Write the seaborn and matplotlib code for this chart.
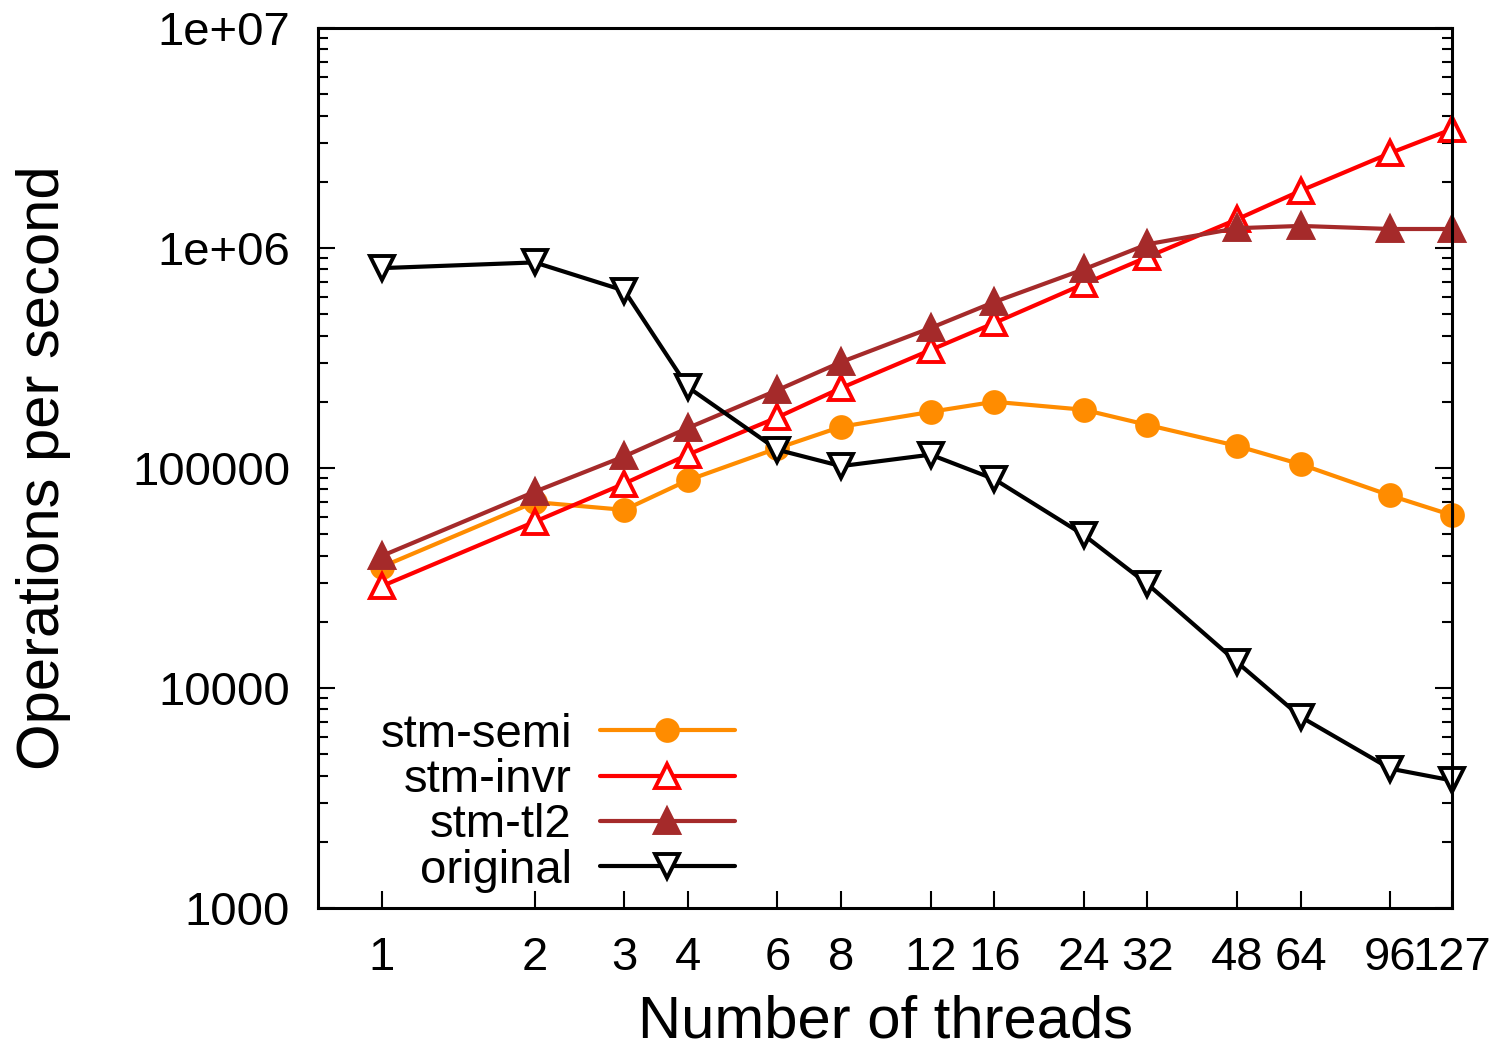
import pandas as pd
import seaborn as sns
import matplotlib.pyplot as plt
from matplotlib.ticker import FixedLocator, FixedFormatter, LogLocator, NullFormatter

threads = [1, 2, 3, 4, 6, 8, 12, 16, 24, 32, 48, 64, 96, 127]
stm_semi = [3.55e4, 7.0e4, 6.45e4, 8.8e4, 1.23e5, 1.54e5, 1.8e5, 2.0e5, 1.84e5, 1.57e5, 1.26e5, 1.04e5, 7.5e4, 6.1e4]
stm_invr = [2.9e4, 5.7e4, 8.5e4, 1.15e5, 1.7e5, 2.31e5, 3.44e5, 4.56e5, 6.86e5, 9.1e5, 1.35e6, 1.82e6, 2.7e6, 3.47e6]
stm_tl2 = [3.98e4, 7.8e4, 1.13e5, 1.52e5, 2.26e5, 3.03e5, 4.33e5, 5.68e5, 8.0e5, 1.04e6, 1.23e6, 1.26e6, 1.22e6, 1.22e6]
original = [8.1e5, 8.6e5, 6.4e5, 2.33e5, 1.21e5, 1.02e5, 1.15e5, 8.9e4, 4.96e4, 2.97e4, 1.31e4, 7.4e3, 4.3e3, 3.8e3]

sns.set_style('ticks')
plt.rcParams['font.family'] = ['Liberation Sans', 'DejaVu Sans']
plt.rcParams['text.color'] = 'black'
plt.rcParams['axes.labelcolor'] = 'black'
plt.rcParams['xtick.color'] = 'black'
plt.rcParams['ytick.color'] = 'black'

fig = plt.figure(figsize=(15.03, 10.5), dpi=100)
ax = fig.add_axes([318 / 1503, 1 - 908 / 1050, (1452 - 318) / 1503, (908 - 28) / 1050])

series = [
    ('stm-semi', stm_semi, '#ff8c00', 'o', '#ff8c00'),
    ('stm-invr', stm_invr, '#ff0000', '^', 'white'),
    ('stm-tl2', stm_tl2, '#a52a2a', '^', '#a52a2a'),
    ('original', original, '#000000', 'v', 'white'),
]

for name, vals, col, mk, fc in series:
    df = pd.DataFrame({'threads': threads, 'ops': vals})
    sns.lineplot(data=df, x='threads', y='ops', ax=ax, color=col, linewidth=3,
                 marker=mk, markersize=15 if mk == 'o' else 17, markerfacecolor=fc,
                 markeredgecolor=col, markeredgewidth=2.8, label=name, clip_on=False)

ax.set_xscale('log')
ax.set_yscale('log')
ax.set_xlim(0.75, 127)
ax.set_ylim(1000, 1e7)

ax.xaxis.set_major_locator(FixedLocator(threads))
ax.xaxis.set_major_formatter(FixedFormatter([str(t) for t in threads]))
ax.xaxis.set_minor_locator(FixedLocator([]))
ax.yaxis.set_major_locator(FixedLocator([1e3, 1e4, 1e5, 1e6, 1e7]))
ax.yaxis.set_major_formatter(FixedFormatter(['1000', '10000', '100000', '1e+06', '1e+07']))
ax.yaxis.set_minor_locator(LogLocator(base=10, subs=range(2, 10)))
ax.yaxis.set_minor_formatter(NullFormatter())

ax.tick_params(which='major', direction='in', length=12, width=1.5, labelsize=34,
               top=False, right=True)
ax.tick_params(axis='x', which='major', pad=20)
ax.tick_params(axis='y', which='major', pad=20)
ax.tick_params(which='minor', direction='in', length=7, width=1.5, top=False, right=True)
for s in ax.spines.values():
    s.set_linewidth(2.2)
    s.set_color('black')

ax.set_xlabel('Number of threads', fontsize=43)
ax.set_ylabel('Operations per second', fontsize=43)
ax.xaxis.label.set_va('center')
ax.yaxis.label.set_va('center')
ax.xaxis.set_label_coords((885 - 318) / 1134, -(1022 - 908) / 880)
ax.yaxis.set_label_coords(-(318 - 44) / 1134, (908 - 468) / 880)

ax.legend(loc='lower left', bbox_to_anchor=(0.03, -0.015), frameon=False, fontsize=34,
          markerfirst=False, handlelength=2.85, handletextpad=0.6, labelspacing=0.03,
          borderaxespad=0.2)
leg = ax.get_legend()
for t in leg.get_texts():
    t.set_ha('right')
leg._legend_box.align = 'right'

fig.savefig('out.png', dpi=100)
